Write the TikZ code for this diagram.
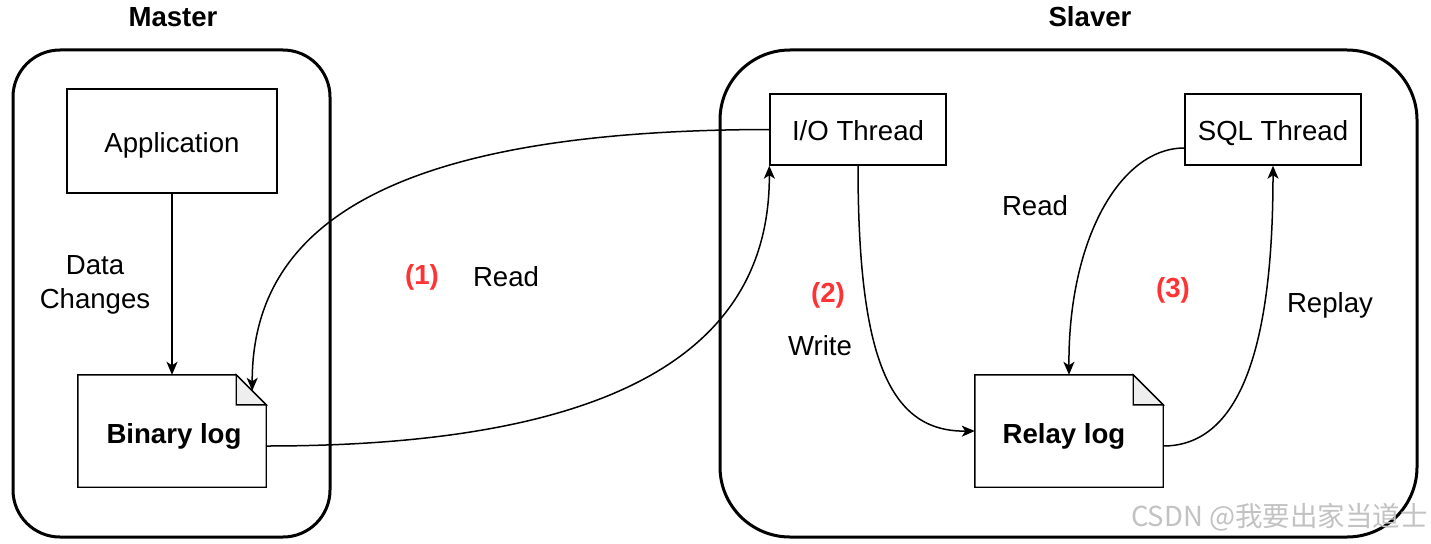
\documentclass[tikz,border=0pt]{standalone}
\usepackage{fontspec}
\setmainfont{Liberation Sans}
\newfontfamily\cjkfont{Noto Sans CJK SC}
\usetikzlibrary{arrows.meta,calc}
\definecolor{numred}{HTML}{FF3333}
\definecolor{foldgray}{HTML}{EEEEEE}
\begin{document}
\begin{tikzpicture}[x=1pt,y=-1pt,
  every node/.style={font=\fontsize{27.6}{34}\selectfont, inner sep=0pt},
  box/.style={draw, line width=1.4pt, text height=22pt, text depth=0pt},
  docbox/.style={minimum width=188pt, minimum height=112pt},
  doctext/.style={font=\fontsize{27.6}{34}\selectfont\bfseries, text height=22pt, text depth=0pt},
  docline/.style={line width=1.4pt},
  container/.style={draw, line width=3pt},
  conn/.style={line width=1.5pt, -{Stealth[length=13pt,width=11pt,inset=3.5pt]}},
  lbl/.style={align=center},
  num/.style={font=\fontsize{27.6}{34}\selectfont\bfseries, text=numred},
  heading/.style={font=\fontsize{27.6}{34}\selectfont\bfseries}]
\path[fill=white] (0,0) rectangle (1431,543);
\useasboundingbox (0,0) rectangle (1431,543);

% containers
\node[container, rounded corners=47pt, minimum width=317pt, minimum height=487pt] (master) at (171.5,293.5) {};
\node[container, rounded corners=70pt, minimum width=697pt, minimum height=487pt] (slaver) at (1068.5,293.5) {};
\node[heading] (mastertitle) at (173,17) {Master};
\node[heading] (slavertitle) at (1090,17) {Slaver};

% boxes
\node[box, minimum width=210pt, minimum height=104pt] (app) at (172,141) {Application};
\node[box, minimum width=176pt, minimum height=71pt] (io) at (858,129.5) {I/O Thread};
\node[box, minimum width=176pt, minimum height=71pt] (sql) at (1273,129.5) {SQL Thread};

% documents
\node[docbox] (bin) at (172,431) {};
\node[docbox] (relay) at (1069,431) {};
\foreach \d in {bin,relay}{
  \draw[docline] (\d.north west) -- ($(\d.north east)+(-30,0)$) -- ($(\d.north east)+(0,30)$) -- (\d.south east) -- (\d.south west) -- cycle;
  \draw[docline, fill=foldgray] ($(\d.north east)+(-30,0)$) -- ($(\d.north east)+(-30,30)$) -- ($(\d.north east)+(0,30)$) -- cycle;
}
\node[doctext] (bintext) at ($(bin.center)+(2,1)$) {Binary log};
\node[doctext] (relaytext) at ($(relay.center)+(-5,1)$) {Relay log};

% anchor points
\coordinate (binfold) at ($(bin.north east)+(-14,16)$);
\coordinate (binout) at ($(bin.east)+(0,15)$);
\coordinate (relayout) at ($(relay.east)+(0,15)$);
\coordinate (sqlout) at ($(sql.west)+(0,18.5)$);

% connectors
\draw[conn] (app.south) -- (bin.north);
\draw[conn] (io.west) .. controls (400,130) and (252,220) .. (binfold);
\draw[conn] (binout) .. controls (650,446) and (770,330) .. (io.south west);
\draw[conn] (io.south) .. controls (858,360) and (890,432) .. (relay.west);
\draw[conn] (sqlout) .. controls (1120,148) and (1068,240) .. (relay.north);
\draw[conn] (relayout) .. controls (1250,446) and (1273,320) .. (sql.south);

% labels
\node[lbl] (datachanges) at (95,285) {Data\\Changes};
\node[num] (n1) at (422,277) {(1)};
\node (read1) at (506,277) {Read};
\node[num] (n2) at (828,295) {(2)};
\node (write) at (820,346) {Write};
\node (read2) at (1035,206) {Read};
\node[num] (n3) at (1173,290) {(3)};
\node (replay) at (1330,305) {Replay};

% watermark
\node[text=black!24, font=\fontsize{27.5}{30}\cjkfont, anchor=east] (wm) at (1428,517) {CSDN @我要出家当道士};
\end{tikzpicture}
\end{document}
